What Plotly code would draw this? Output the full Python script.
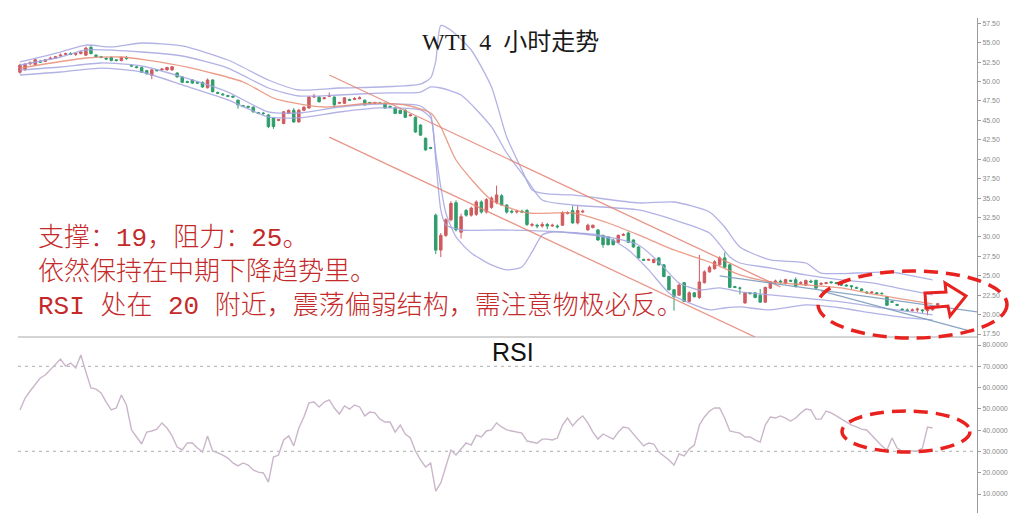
import plotly.graph_objects as go

W, H = 1024, 513

# ---------------- data ----------------
open_ = [51.2, 51.5, 52.3, 52.2, 52.6, 52.6, 52.9, 53.0, 53.3, 53.5,
         53.6, 53.5, 53.6, 53.4, 54.4, 53.4, 53.2, 53.0, 53.1, 52.8,
         52.7, 53.0, 52.1, 51.9, 51.8, 51.4, 50.8, 51.5, 51.5, 51.5,
         51.5, 51.1, 50.6, 50.0, 50.2, 49.9, 49.9, 49.2, 50.2, 48.6,
         48.4, 48.2, 48.1, 47.6, 46.9, 46.8, 46.7, 46.0, 45.9, 45.7,
         45.3, 45.0, 44.6, 45.9, 46.3, 44.8, 46.3, 46.6, 48.0, 48.0,
         47.8, 48.1, 48.0, 47.2, 47.2, 47.7, 47.7, 47.8, 47.6, 47.3,
         47.2, 47.2, 47.2, 46.8, 46.6, 46.3, 46.3, 45.6, 45.4, 44.4,
         42.7, 41.5, 32.8, 28.3, 30.2, 32.2, 34.4, 30.6, 33.4, 32.8,
         32.9, 34.5, 33.2, 33.8, 34.4, 35.3, 34.1, 33.3, 33.2, 33.3,
         33.4, 31.5, 31.5, 31.4, 31.6, 31.4, 31.4, 31.5, 33.0, 33.4,
         31.8, 33.2, 30.9, 31.2, 30.9, 30.2, 30.0, 29.6, 29.3, 30.2,
         30.5, 29.6, 28.7, 27.1, 27.0, 26.7, 27.3, 26.4, 24.9, 23.2,
         22.5, 24.1, 21.7, 22.8, 22.2, 24.1, 25.5, 25.9, 26.4, 27.3,
         26.4, 23.6, 23.4, 21.5, 22.8, 22.8, 22.5, 21.6, 23.4, 24.2,
         24.3, 24.0, 24.4, 24.5, 24.0, 23.8, 24.3, 24.4, 23.9, 24.0,
         24.2, 24.1, 23.9, 23.8, 23.7, 23.5, 23.3, 22.9, 22.8, 22.8,
         22.7, 22.3, 21.7, 21.3, 20.7, 20.6, 20.5, 20.6, 20.6, 20.5,
         20.6, 21.2]
high = [52.3, 52.4, 52.6, 53.0, 52.8, 52.9, 53.2, 53.3, 53.6, 53.7,
        53.8, 53.7, 54.0, 54.5, 54.7, 53.5, 53.3, 53.1, 53.2, 52.9,
        53.2, 53.3, 52.2, 52.0, 51.9, 51.5, 51.6, 51.6, 51.7, 51.9,
        52.0, 51.2, 50.7, 50.1, 50.3, 50.0, 50.0, 50.4, 50.3, 48.7,
        48.5, 48.3, 48.2, 47.7, 47.0, 46.9, 46.8, 46.1, 46.1, 45.8,
        45.4, 45.2, 46.2, 46.4, 46.6, 46.5, 46.8, 48.1, 48.4, 48.1,
        48.0, 48.6, 48.1, 47.4, 48.0, 47.8, 48.0, 48.1, 47.7, 47.4,
        47.4, 47.4, 47.3, 46.9, 46.7, 46.4, 46.4, 45.8, 45.5, 44.5,
        42.8, 41.6, 33.0, 30.5, 32.4, 34.6, 34.7, 33.0, 33.6, 33.9,
        34.7, 34.7, 35.0, 35.2, 36.6, 35.5, 34.2, 33.5, 33.5, 33.5,
        33.6, 31.8, 31.7, 31.9, 31.8, 31.7, 31.6, 33.3, 33.3, 34.0,
        34.0, 33.5, 31.7, 31.6, 31.0, 30.3, 30.1, 29.7, 30.3, 30.5,
        30.7, 29.7, 28.8, 27.2, 27.2, 27.2, 27.4, 26.5, 25.0, 23.3,
        24.0, 24.2, 23.0, 22.9, 27.7, 25.7, 26.3, 27.0, 27.5, 28.0,
        26.5, 23.7, 23.6, 22.9, 22.9, 22.9, 23.3, 23.6, 24.3, 24.5,
        24.5, 24.6, 24.5, 24.8, 24.3, 24.5, 24.5, 24.5, 24.2, 24.2,
        24.3, 24.2, 24.0, 23.9, 23.8, 23.6, 23.4, 23.0, 23.0, 22.9,
        22.9, 22.4, 21.8, 21.4, 20.8, 20.8, 20.8, 20.9, 20.7, 20.8,
        20.9, 21.5]
low = [51.0, 51.4, 52.1, 52.1, 52.4, 52.5, 52.8, 52.9, 53.2, 53.4,
       53.4, 53.3, 53.5, 53.3, 53.5, 53.1, 53.0, 52.8, 52.6, 52.6,
       52.6, 52.8, 51.9, 51.7, 51.1, 50.9, 50.3, 51.3, 51.4, 51.4,
       51.4, 50.5, 49.8, 49.8, 49.7, 49.7, 49.2, 49.1, 48.6, 48.4,
       48.2, 48.0, 47.9, 46.5, 46.7, 46.6, 46.0, 45.8, 45.7, 44.0,
       43.9, 44.9, 44.5, 45.8, 44.7, 44.7, 46.2, 46.5, 47.9, 47.3,
       47.7, 48.0, 46.6, 47.1, 47.1, 47.5, 47.6, 47.7, 46.9, 47.1,
       47.1, 47.1, 46.5, 46.6, 45.8, 45.8, 45.3, 45.5, 43.4, 43.0,
       41.1, 41.3, 27.8, 27.4, 30.0, 32.0, 30.7, 29.8, 32.6, 32.6,
       32.7, 33.0, 33.0, 33.6, 34.2, 34.0, 33.0, 33.0, 33.0, 33.1,
       31.4, 31.3, 31.1, 31.2, 31.0, 31.3, 31.1, 31.4, 32.9, 31.7,
       31.6, 33.1, 30.8, 31.1, 29.5, 28.6, 28.9, 28.9, 29.2, 30.1,
       29.2, 28.6, 27.2, 26.9, 26.9, 26.6, 26.3, 24.8, 23.1, 20.5,
       22.4, 21.6, 21.6, 22.2, 22.0, 24.0, 25.4, 25.8, 26.3, 26.0,
       23.4, 23.4, 22.6, 21.4, 22.6, 22.1, 21.5, 21.5, 23.3, 24.0,
       24.0, 23.9, 24.2, 23.5, 23.9, 23.7, 24.1, 23.3, 23.8, 23.9,
       24.0, 23.9, 23.7, 23.6, 23.2, 23.3, 23.0, 22.7, 22.7, 22.6,
       22.6, 21.1, 21.5, 21.1, 20.5, 20.4, 20.4, 20.3, 20.2, 19.9,
       20.5, 21.1]
close = [52.1, 52.2, 52.4, 52.8, 52.5, 52.8, 53.0, 53.2, 53.4, 53.6,
         53.5, 53.6, 53.8, 54.3, 53.6, 53.2, 53.1, 52.9, 52.7, 52.7,
         53.1, 53.0, 52.0, 51.8, 51.2, 51.0, 51.5, 51.4, 51.6, 51.8,
         51.9, 50.6, 49.9, 49.9, 49.8, 49.8, 49.3, 50.2, 48.7, 48.5,
         48.3, 48.1, 48.0, 47.0, 46.8, 46.7, 46.1, 45.9, 45.9, 44.2,
         44.2, 45.1, 46.1, 46.3, 44.8, 46.3, 46.7, 48.0, 48.1, 47.4,
         47.9, 48.2, 47.0, 47.3, 47.9, 47.6, 47.8, 47.9, 47.0, 47.2,
         47.3, 47.2, 46.6, 46.7, 45.9, 45.9, 45.4, 45.7, 43.5, 43.1,
         41.2, 41.4, 28.3, 30.2, 32.2, 34.3, 30.9, 32.6, 32.8, 33.7,
         34.5, 33.2, 34.8, 35.0, 35.4, 34.1, 33.2, 33.2, 33.3, 33.2,
         31.6, 31.6, 31.4, 31.6, 31.4, 31.5, 31.3, 33.1, 33.1, 31.8,
         33.4, 33.3, 31.5, 31.5, 29.6, 29.0, 29.0, 29.0, 30.2, 30.3,
         29.3, 28.7, 27.3, 27.0, 27.1, 27.1, 26.4, 24.9, 23.2, 22.3,
         23.8, 21.7, 22.8, 22.3, 24.2, 25.5, 26.1, 26.8, 27.3, 26.1,
         23.5, 23.5, 23.4, 22.8, 22.7, 22.2, 21.6, 23.5, 24.2, 24.3,
         24.2, 24.5, 24.3, 23.6, 24.1, 24.4, 24.2, 23.4, 24.0, 24.1,
         24.1, 24.0, 23.8, 23.7, 23.6, 23.4, 23.1, 22.8, 22.9, 22.7,
         22.7, 21.2, 21.6, 21.2, 20.6, 20.5, 20.6, 20.7, 20.5, 20.6,
         20.8, 21.4]

# Bollinger-style bands (bar index, price)
outer_upper_x = [0, 8, 13, 18, 24, 32, 41, 49, 55, 63, 71, 79, 81, 82, 83, 85, 89, 93, 96, 99,
                 101, 104, 109, 122, 129, 136, 139, 142, 148, 155, 158, 165, 172, 175, 180]
outer_upper = [52.52, 53.80, 54.70, 54.45, 54.96, 54.58, 52.77, 50.20, 48.91, 49.17, 49.30, 49.68,
               50.46, 52.60, 57.20, 56.60, 54.06, 49.30, 42.86, 38.62, 36.04, 35.53, 35.40, 34.37,
               34.49, 33.21, 31.28, 28.70, 27.03, 26.64, 25.35, 25.35, 25.48, 25.10, 24.46]
inner_upper_x = [0, 8, 13, 24, 32, 41, 49, 55, 63, 71, 79, 81, 83, 87, 93, 96, 100, 103, 109,
                 122, 129, 136, 140, 142, 148, 155, 162, 168, 175, 180]
inner_upper = [52.13, 53.16, 54.06, 53.80, 53.29, 51.74, 49.17, 48.14, 48.27, 48.52, 48.65, 49.30,
               49.17, 48.27, 44.15, 40.80, 37.33, 34.75, 34.11, 33.47, 32.18, 30.50, 27.42, 26.64,
               26.00, 25.10, 24.46, 24.07, 23.17, 22.53]
middle_x = [0, 13, 20, 25, 33, 44, 50, 54, 60, 70, 76, 81, 83, 86, 93, 100, 109, 116, 122, 129,
            136, 142, 148, 155, 162, 168, 175, 180]
middle = [51.74, 53.03, 53.16, 52.77, 51.87, 49.94, 47.88, 47.24, 46.72, 47.24, 46.98, 45.95,
          44.15, 39.90, 34.75, 33.08, 33.08, 31.79, 30.25, 28.32, 26.77, 25.10, 24.20, 23.82,
          23.43, 22.66, 21.89, 21.37]
inner_lower_x = [0, 8, 16, 24, 32, 41, 49, 55, 63, 71, 79, 81, 82, 83, 84, 87, 95, 107, 114,
                 122, 126, 130, 134, 138, 142, 148, 154, 162, 170, 180]
inner_lower = [51.49, 51.87, 52.39, 52.00, 50.59, 48.65, 46.08, 45.95, 46.72, 47.11, 46.85, 45.69,
               39.90, 33.47, 31.54, 30.89, 30.89, 30.63, 30.25, 28.96, 26.77, 24.07, 23.17, 23.43,
               22.92, 22.53, 22.14, 21.63, 20.85, 19.96]
outer_lower_x = [0, 8, 16, 24, 32, 41, 49, 55, 63, 71, 79, 81, 82, 83, 84, 86, 89, 93, 96, 99,
                 101, 103, 105, 109, 116, 120, 124, 128, 132, 136, 139, 142, 148, 155, 162, 168,
                 175, 180]
outer_lower = [50.84, 51.23, 51.74, 51.23, 49.56, 47.63, 45.44, 45.31, 46.08, 46.60, 46.34, 45.31,
               40.80, 36.43, 33.08, 29.99, 27.93, 26.39, 25.75, 26.13, 28.06, 30.25, 30.63, 30.50,
               29.86, 28.32, 25.75, 22.79, 21.50, 20.60, 20.85, 20.98, 20.60, 21.24, 20.85, 20.21,
               19.57, 19.31]

# drawn trend lines (bar index, price)
channel_upper_x = [61, 150]
channel_upper = [50.84, 23.56]
channel_lower_x = [61, 145]
channel_lower = [42.85, 17.11]
blue_line1_x = [138, 188.8]
blue_line1 = [24.97, 20.34]
blue_line2_x = [158, 188]
blue_line2 = [23.04, 17.76]

rsi = [49.5, 55.0, 58.4, 61.7, 64.5, 65.9, 68.3, 70.6, 73.4, 70.1,
       71.5, 69.2, 75.3, 67.3, 59.8, 59.3, 57.5, 53.2, 49.5, 50.4,
       56.5, 51.8, 40.1, 36.8, 33.5, 39.1, 39.6, 40.5, 43.4, 41.0,
       37.3, 32.1, 30.7, 34.0, 34.0, 31.6, 29.7, 37.3, 30.2, 29.3,
       28.3, 26.9, 24.6, 23.2, 24.6, 23.6, 21.3, 20.3, 19.9, 15.6,
       27.4, 28.3, 35.4, 37.3, 32.6, 41.0, 46.2, 52.8, 53.2, 50.9,
       53.2, 54.2, 50.4, 47.6, 51.4, 49.9, 51.8, 50.9, 46.7, 48.5,
       48.1, 45.2, 43.8, 43.8, 39.1, 42.4, 38.2, 36.3, 30.2, 26.0,
       22.7, 24.6, 11.4, 15.2, 23.2, 30.7, 28.3, 31.1, 34.0, 33.0,
       37.7, 36.8, 39.6, 40.1, 43.4, 41.5, 40.1, 39.6, 39.1, 38.6,
       34.9, 34.4, 33.9, 35.8, 35.8, 35.4, 36.3, 42.4, 45.7, 42.0,
       44.8, 46.7, 43.4, 39.1, 35.8, 38.2, 36.8, 35.8, 39.1, 41.5,
       41.0, 38.2, 34.9, 32.6, 34.0, 33.5, 29.7, 27.9, 26.0, 23.6,
       28.8, 27.9, 31.1, 33.0, 42.4, 46.2, 49.0, 50.4, 50.4, 45.7,
       39.6, 39.1, 38.6, 36.8, 36.8, 35.4, 34.4, 42.4, 46.2, 45.7,
       46.7, 45.7, 44.3, 45.7, 48.1, 49.9, 49.5, 45.2, 45.2, 49.0,
       48.1, 46.7, 45.2, 43.8, 42.4, 41.5, 40.5, 40.1, 37.7, 34.9,
       32.6, 30.7, 36.3, 31.6, 30.2, 30.2, 30.2, 30.2, 31.6, 41.5,
       41.0]
rsi_levels = [70, 30]

price_ticks = [17.5 + 2.5 * k for k in range(17)]
rsi_ticks = [10, 20, 30, 40, 50, 60, 70, 80]

title_text = "WTI\u00a0\u00a04\u00a0\u00a0小时走势"
note_lines = ["支撑：19，阻力：25。",
              "依然保持在中期下降趋势里。",
              "RSI 处在 20 附近，震荡偏弱结构，需注意物极必反。"]
rsi_label = "RSI"

# ---------------- helpers (pixel -> paper) ----------------
def px(x):
    return x / W


def py(y):
    return 1 - y / H


bar_x = list(range(len(close)))

fig = go.Figure()

LAV = "rgba(165,165,225,0.85)"
SAL = "rgba(230,140,115,0.85)"

for xs, ys, col in [(outer_upper_x, outer_upper, LAV), (inner_upper_x, inner_upper, LAV),
                    (inner_lower_x, inner_lower, LAV), (outer_lower_x, outer_lower, LAV),
                    (middle_x, middle, SAL)]:
    fig.add_trace(go.Scatter(x=xs, y=ys, mode="lines", line=dict(color=col, width=1.3, shape="spline", smoothing=0.6),
                             xaxis="x", yaxis="y", hoverinfo="skip", showlegend=False))

for xs, ys, col in [(channel_upper_x, channel_upper, "rgba(228,130,115,0.85)"),
                    (channel_lower_x, channel_lower, "rgba(228,130,115,0.85)"),
                    (blue_line1_x, blue_line1, "rgba(125,155,190,0.9)"),
                    (blue_line2_x, blue_line2, "rgba(125,155,190,0.9)")]:
    fig.add_trace(go.Scatter(x=xs, y=ys, mode="lines", line=dict(color=col, width=1.3),
                             xaxis="x", yaxis="y", hoverinfo="skip", showlegend=False))

fig.add_trace(go.Candlestick(
    x=bar_x, open=open_, high=high, low=low, close=close,
    increasing=dict(line=dict(color="#cf5b5e", width=1), fillcolor="#cf5b5e"),
    decreasing=dict(line=dict(color="#2f9d6c", width=1), fillcolor="#2f9d6c"),
    whiskerwidth=0, xaxis="x", yaxis="y", showlegend=False, hoverinfo="skip"))

fig.add_trace(go.Scatter(x=list(range(len(rsi))), y=rsi, mode="lines",
                         line=dict(color="#c9b6c9", width=1.4),
                         xaxis="x2", yaxis="y2", hoverinfo="skip", showlegend=False))

x_range = [-0.39, 188.76]
x_dom = [px(18), px(977)]

shapes = []
for lv in rsi_levels:
    shapes.append(dict(type="line", xref="paper", yref="y2", x0=px(18), x1=px(977), y0=lv, y1=lv,
                       line=dict(color="#bdbdbd", width=1.3, dash="3px,4px"), layer="below"))
# panel separator
shapes.append(dict(type="line", xref="paper", yref="paper", x0=px(18), x1=px(977), y0=py(337), y1=py(337),
                   line=dict(color="#a8a8a8", width=1)))
# red dashed ellipses
shapes.append(dict(type="circle", xref="paper", yref="paper", x0=px(818), x1=px(1007), y0=py(338), y1=py(271),
                   line=dict(color="#e8231f", width=3.5, dash="14px,8px")))
shapes.append(dict(type="circle", xref="paper", yref="paper", x0=px(842), x1=px(970), y0=py(452), y1=py(411),
                   line=dict(color="#e8231f", width=3.5, dash="14px,8px")))
# hollow arrow
arrow_pts = [(925, 293), (946, 292), (945, 283), (966, 296), (950, 316), (948, 306), (926, 308)]
path = "M " + " L ".join(f"{px(a):.5f},{py(b):.5f}" for a, b in arrow_pts) + " Z"
shapes.append(dict(type="path", xref="paper", yref="paper", path=path,
                   line=dict(color="#e8231f", width=3), fillcolor="rgba(0,0,0,0)"))

annotations = [
    dict(text=title_text, xref="paper", yref="paper", x=px(510), y=py(42), showarrow=False,
         xanchor="center", yanchor="middle",
         font=dict(family="Liberation Serif, Noto Sans CJK SC", size=24, color="#1a1a1a")),
    dict(text=rsi_label, xref="paper", yref="paper", x=px(513), y=py(352), showarrow=False,
         xanchor="center", yanchor="middle",
         font=dict(family="Liberation Sans, Arial", size=25, color="#111111")),
    dict(text="<br>".join(note_lines), xref="paper", yref="paper", x=px(36), y=py(272),
         showarrow=False, xanchor="left", yanchor="middle", align="left",
         font=dict(family="Liberation Mono, Noto Sans CJK SC", size=26, color="#c42a2a", weight=300)),
]

axis_common = dict(showgrid=False, zeroline=False)
fig.update_layout(
    width=W, height=H, margin=dict(l=0, r=0, t=0, b=0),
    paper_bgcolor="white", plot_bgcolor="white", showlegend=False,
    xaxis=dict(domain=x_dom, range=x_range, anchor="y", showticklabels=False, showline=False,
               ticks="", rangeslider=dict(visible=False), **axis_common),
    xaxis2=dict(domain=x_dom, range=x_range, anchor="y2", matches="x", showticklabels=False,
                showline=False, ticks="", **axis_common),
    yaxis=dict(domain=[py(337), py(18)], range=[17.114, 58.18], side="right", anchor="x",
               showline=True, linecolor="#9a9a9a", linewidth=1, ticks="outside", ticklen=3,
               tickcolor="#9a9a9a", tickvals=price_ticks, tickformat=".2f",
               tickfont=dict(size=7, color="#8a8a8a", family="Liberation Sans, Arial"), **axis_common),
    yaxis2=dict(domain=[0, py(337)], range=[1.09, 83.76], side="right", anchor="x2",
                showline=True, linecolor="#9a9a9a", linewidth=1, ticks="outside", ticklen=3,
                tickcolor="#9a9a9a", tickvals=rsi_ticks, tickformat=".4f",
                tickfont=dict(size=7, color="#8a8a8a", family="Liberation Sans, Arial"), **axis_common),
    shapes=shapes, annotations=annotations,
)

fig.write_html("out.html", config={"displayModeBar": False},
               post_script="document.body.style.margin='0px';document.body.style.overflow='hidden';")
